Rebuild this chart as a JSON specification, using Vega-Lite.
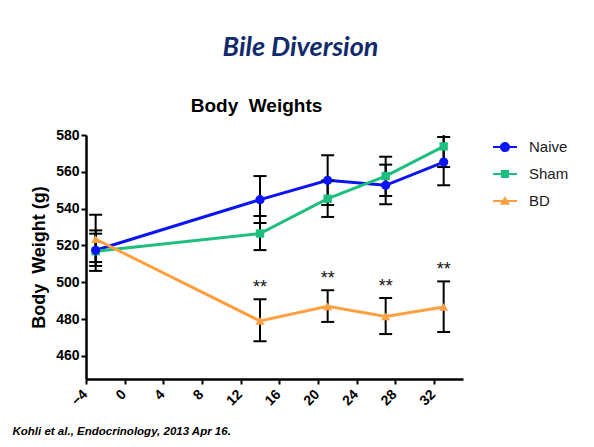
{
  "$schema": "https://vega.github.io/schema/vega-lite/v6.json",
  "background": "white",
  "padding": {"left": 12, "top": 34, "right": 5, "bottom": 5},
  "title": {
    "text": "Bile Diversion",
    "font": "Lato",
    "fontSize": 27,
    "fontStyle": "italic",
    "fontWeight": "bold",
    "color": "#102A6B",
    "anchor": "middle",
    "frame": "bounds",
    "dx": 10,
    "offset": 35
  },
  "config": {
    "view": {"stroke": null},
    "axis": {
      "grid": false,
      "domainColor": "black",
      "domainWidth": 2.5,
      "tickColor": "black",
      "tickWidth": 2,
      "tickSize": 5,
      "labelFont": "Liberation Sans",
      "labelFontWeight": "bold",
      "labelFontSize": 14,
      "labelColor": "black",
      "titleFont": "Liberation Sans",
      "titleFontWeight": "bold",
      "titleColor": "black"
    }
  },
  "data": {
    "values": [
      {"group": "Naive", "day": -3, "mean": 517.4, "lo": 506.2, "hi": 528.2, "star": ""},
      {"group": "Naive", "day": 14, "mean": 544.9, "lo": 532.2, "hi": 557.7, "star": ""},
      {"group": "Naive", "day": 21, "mean": 555.4, "lo": 542.0, "hi": 569.0, "star": ""},
      {"group": "Naive", "day": 27, "mean": 552.7, "lo": 542.4, "hi": 563.9, "star": ""},
      {"group": "Naive", "day": 33, "mean": 565.3, "lo": 552.7, "hi": 578.9, "star": ""},
      {"group": "Sham", "day": -3, "mean": 516.9, "lo": 508.9, "hi": 526.4, "star": ""},
      {"group": "Sham", "day": 14, "mean": 526.5, "lo": 517.5, "hi": 536.0, "star": ""},
      {"group": "Sham", "day": 21, "mean": 545.4, "lo": 535.5, "hi": 555.3, "star": ""},
      {"group": "Sham", "day": 27, "mean": 557.7, "lo": 546.9, "hi": 568.2, "star": ""},
      {"group": "Sham", "day": 33, "mean": 573.8, "lo": 562.6, "hi": 585.0, "star": ""},
      {"group": "BD", "day": -3, "mean": 523.4, "lo": 511.0, "hi": 536.7, "star": ""},
      {"group": "BD", "day": 14, "mean": 479.0, "lo": 468.0, "hi": 490.8, "star": "**"},
      {"group": "BD", "day": 21, "mean": 487.0, "lo": 478.5, "hi": 495.7, "star": "**"},
      {"group": "BD", "day": 27, "mean": 481.5, "lo": 471.9, "hi": 491.5, "star": "**"},
      {"group": "BD", "day": 33, "mean": 486.6, "lo": 473.0, "hi": 500.5, "star": "**"}
    ]
  },
  "vconcat": [
    {
      "width": 377,
      "height": 244,
      "title": {
        "text": "Body\u00a0 Weights",
        "font": "Liberation Sans",
        "fontSize": 19,
        "fontWeight": "bold",
        "color": "black",
        "anchor": "middle",
        "frame": "group",
        "dx": -18,
        "offset": 12
      },
      "encoding": {
        "x": {
          "field": "day",
          "type": "quantitative",
          "scale": {"domain": [-4, 35], "nice": false, "zero": false},
          "axis": {
            "values": [-4, 0, 4, 8, 12, 16, 20, 24, 28, 32],
            "labelAngle": -45,
            "labelPadding": 3,
            "labelOffset": -6,
            "title": "Kohli et al., Endocrinology, 2013 Apr 16.",
            "titleFontSize": 11.5,
            "titleFontStyle": "italic",
            "titleFontWeight": "bold",
            "titleAnchor": "start",
            "titleAlign": "left",
            "titleBaseline": "middle",
            "titleX": -74,
            "titleY": 52
          }
        }
      },
      "layer": [
        {
          "transform": [{"filter": "datum.day > 1000"}],
          "mark": {"type": "point", "filled": true, "size": 576, "opacity": 1},
          "encoding": {
            "y": {"field": "mean", "type": "quantitative"},
            "color": {
              "field": "group",
              "type": "nominal",
              "scale": {"domain": ["Naive", "Sham", "BD"], "range": ["#0A14F5", "#1DBF7E", "#FFA040"]},
              "legend": {
                "title": null,
                "orient": "right",
                "offset": 30,
                "padding": 0,
                "rowPadding": 7,
                "labelOffset": 12,
                "labelFont": "Liberation Sans",
                "labelFontSize": 15,
                "labelColor": "#1a1a1a",
                "symbolStrokeWidth": 0,
                "symbolSize": 576
              }
            },
            "shape": {
              "field": "group",
              "type": "nominal",
              "scale": {
                "domain": ["Naive", "Sham", "BD"],
                "range": [
                  "M-1,-0.08H1V0.08H-1Z M0.42,0 A0.42,0.42 0 1,1 -0.42,0 A0.42,0.42 0 1,1 0.42,0 Z",
                  "M-1,-0.08H1V0.08H-1Z M-0.34,-0.34H0.34V0.34H-0.34Z",
                  "M-1,-0.08H1V0.08H-1Z M0,-0.42L0.42,0.32H-0.42Z"
                ]
              },
              "legend": {
                "title": null,
                "orient": "right",
                "offset": 30,
                "padding": 0,
                "rowPadding": 7,
                "labelOffset": 12,
                "labelFont": "Liberation Sans",
                "labelFontSize": 15,
                "labelColor": "#1a1a1a",
                "symbolStrokeWidth": 0,
                "symbolSize": 576
              }
            }
          }
        },
        {
          "mark": {"type": "line", "strokeWidth": 3},
          "encoding": {
            "y": {
              "field": "mean",
              "type": "quantitative",
              "scale": {"domain": [447.5, 580], "nice": false, "zero": false},
              "axis": {
                "values": [460, 480, 500, 520, 540, 560, 580],
                "title": "Body\u00a0 Weight (g)",
                "titleFontSize": 18,
                "titlePadding": 7
              }
            },
            "color": {"field": "group", "type": "nominal", "legend": null},
            "detail": {"field": "group"}
          }
        },
        {
          "mark": {"type": "rule", "color": "black", "strokeWidth": 2, "clip": true},
          "encoding": {
            "y": {"field": "lo", "type": "quantitative"},
            "y2": {"field": "hi"}
          }
        },
        {
          "mark": {"type": "tick", "orient": "horizontal", "color": "black", "size": 13, "thickness": 2, "clip": true, "opacity": 1},
          "encoding": {
            "y": {"field": "lo", "type": "quantitative"}
          }
        },
        {
          "mark": {"type": "tick", "orient": "horizontal", "color": "black", "size": 13, "thickness": 2, "clip": true, "opacity": 1},
          "encoding": {
            "y": {"field": "hi", "type": "quantitative"}
          }
        },
        {
          "transform": [{"filter": "datum.group === 'Sham'"}],
          "mark": {"type": "point", "shape": "square", "filled": true, "size": 70, "opacity": 1},
          "encoding": {
            "y": {"field": "mean", "type": "quantitative"},
            "color": {"field": "group", "type": "nominal", "legend": null}
          }
        },
        {
          "transform": [{"filter": "datum.group === 'Naive'"}],
          "mark": {"type": "point", "shape": "circle", "filled": true, "size": 85, "opacity": 1},
          "encoding": {
            "y": {"field": "mean", "type": "quantitative"},
            "color": {"field": "group", "type": "nominal", "legend": null}
          }
        },
        {
          "transform": [{"filter": "datum.group === 'BD'"}],
          "mark": {"type": "point", "shape": "triangle-up", "filled": true, "size": 80, "opacity": 1},
          "encoding": {
            "y": {"field": "mean", "type": "quantitative"},
            "color": {"field": "group", "type": "nominal", "legend": null}
          }
        },
        {
          "transform": [{"filter": "datum.star !== ''"}],
          "mark": {"type": "text", "font": "Liberation Sans", "fontSize": 18, "color": "#111", "baseline": "alphabetic", "dy": -6},
          "encoding": {
            "y": {"field": "hi", "type": "quantitative"},
            "text": {"field": "star"}
          }
        }
      ]
    }
  ]
}
